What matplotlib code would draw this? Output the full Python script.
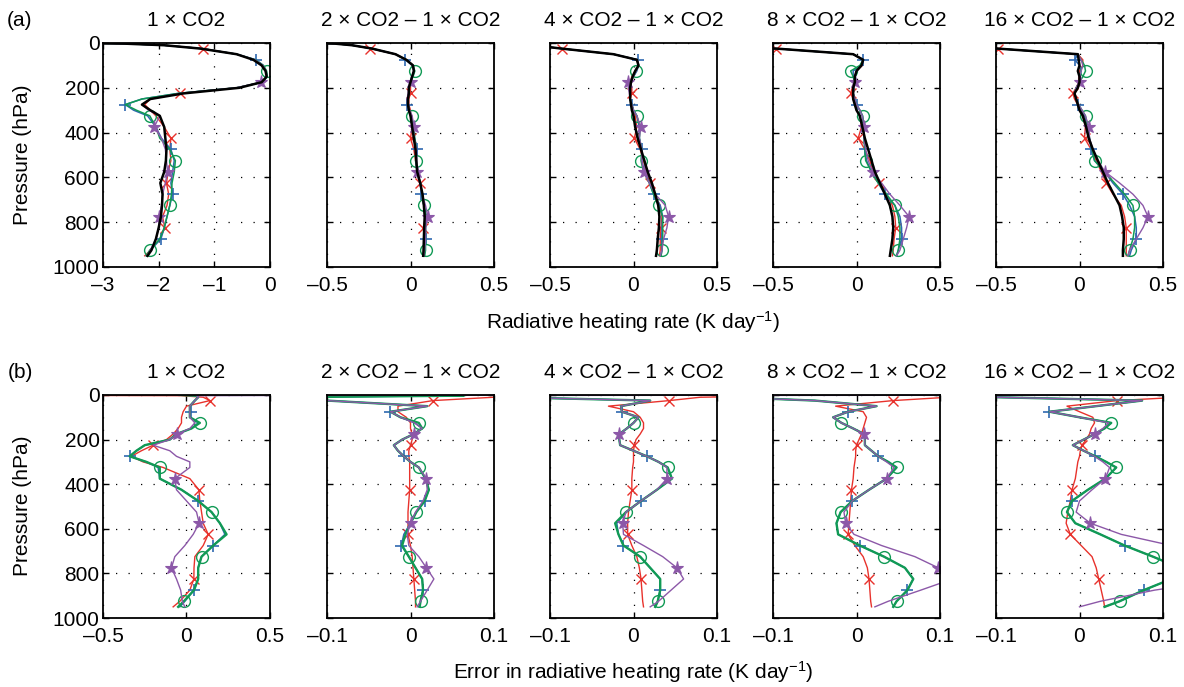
import matplotlib
matplotlib.use("Agg")
import matplotlib.pyplot as plt

plt.rcParams['font.family'] = ['Liberation Sans', 'DejaVu Sans']
plt.rcParams['mathtext.fontset'] = 'custom'
plt.rcParams['mathtext.rm'] = 'Liberation Sans'
plt.rcParams['mathtext.it'] = 'Liberation Sans'

# Pressure levels (hPa)
P = [0, 3, 10, 25, 50, 75, 100, 125, 150, 175, 200, 225, 250, 275, 300,
     325, 375, 425, 475, 525, 575, 625, 675, 725, 775, 825, 875, 925, 950]

titles = ["1 \u00d7 CO2", "2 \u00d7 CO2 \u2013 1 \u00d7 CO2", "4 \u00d7 CO2 \u2013 1 \u00d7 CO2",
          "8 \u00d7 CO2 \u2013 1 \u00d7 CO2", "16 \u00d7 CO2 \u2013 1 \u00d7 CO2"]

# ---- Row (a): heating rates ----
a1_black = [-3.5, -2.6, -1.9, -1.25, -0.6, -0.3, -0.15, -0.08, -0.06, -0.15, -0.55, -1.55, -2.15, -2.3, -2.15, -1.98, -1.9, -1.88, -1.86, -1.87, -1.9, -1.97, -1.93, -1.94, -1.96, -2.0, -2.05, -2.13, -2.2]
a1_red = [-3.5, -2.6, -1.9, -1.2, -0.6, -0.28, -0.14, -0.08, -0.06, -0.14, -0.6, -1.62, -2.15, -2.25, -2.15, -2.05, -1.9, -1.78, -1.8, -1.78, -1.83, -1.86, -1.82, -1.85, -1.93, -1.89, -1.98, -2.15, -2.25]
a1_blue = [-3.5, -2.6, -1.9, -1.22, -0.6, -0.25, -0.12, -0.07, -0.05, -0.14, -0.6, -1.65, -2.3, -2.6, -2.45, -2.2, -2.05, -1.95, -1.78, -1.72, -1.75, -1.78, -1.75, -1.8, -1.85, -1.9, -1.96, -2.15, -2.22]
a1_green = [-3.5, -2.6, -1.9, -1.22, -0.6, -0.26, -0.12, -0.06, -0.05, -0.14, -0.6, -1.65, -2.3, -2.6, -2.4, -2.16, -2.05, -1.98, -1.8, -1.7, -1.72, -1.76, -1.77, -1.8, -1.85, -1.9, -1.98, -2.16, -2.22]
a1_purple = [-3.5, -2.6, -1.9, -1.22, -0.6, -0.27, -0.13, -0.07, -0.06, -0.16, -0.6, -1.6, -2.15, -2.3, -2.18, -1.98, -2.08, -1.95, -1.88, -1.86, -1.84, -1.88, -1.93, -1.95, -1.99, -2.0, -2.05, -2.15, -2.2]

a2_black = [-0.6, -0.45, -0.35, -0.23, -0.09, -0.025, 0.015, 0.02, 0.01, 0.0, -0.01, -0.01, -0.015, -0.015, -0.01, 0.0, 0.01, 0.02, 0.03, 0.035, 0.04, 0.058, 0.072, 0.08, 0.085, 0.082, 0.08, 0.078, 0.076]
a2_red = [-0.6, -0.45, -0.35, -0.24, -0.09, -0.025, 0.015, 0.02, 0.01, 0.0, 0.0, 0.0, -0.01, -0.01, 0.0, 0.0, 0.01, 0.0, 0.02, 0.03, 0.045, 0.056, 0.07, 0.08, 0.09, 0.076, 0.085, 0.085, 0.08]
a2_blue = [-0.6, -0.45, -0.35, -0.23, -0.09, -0.03, 0.01, 0.02, 0.01, 0.0, -0.01, -0.01, -0.02, -0.02, -0.01, 0.0, 0.015, 0.025, 0.04, 0.035, 0.04, 0.06, 0.064, 0.08, 0.095, 0.09, 0.09, 0.085, 0.08]
a2_green = [-0.6, -0.45, -0.35, -0.23, -0.09, -0.025, 0.015, 0.026, 0.015, 0.0, -0.01, -0.01, -0.015, -0.015, -0.005, 0.006, 0.02, 0.025, 0.035, 0.03, 0.04, 0.06, 0.07, 0.08, 0.095, 0.09, 0.09, 0.09, 0.085]
a2_purple = [-0.6, -0.45, -0.35, -0.23, -0.09, -0.025, 0.015, 0.02, 0.01, 0.0, -0.01, -0.015, -0.02, -0.015, -0.005, 0.01, 0.02, 0.02, 0.035, 0.036, 0.036, 0.055, 0.07, 0.09, 0.104, 0.09, 0.09, 0.085, 0.08]

a3_black = [-0.8, -0.7, -0.6, -0.43, -0.12, 0.02, 0.03, 0.01, -0.005, -0.015, -0.02, -0.02, -0.02, -0.015, -0.01, 0.0, 0.01, 0.025, 0.045, 0.065, 0.085, 0.11, 0.13, 0.148, 0.155, 0.152, 0.145, 0.14, 0.135]
a3_red = [-0.8, -0.7, -0.6, -0.43, -0.12, 0.02, 0.03, 0.01, -0.01, -0.02, -0.01, -0.01, -0.02, -0.01, 0.0, 0.01, 0.02, 0.005, 0.04, 0.06, 0.075, 0.1, 0.125, 0.16, 0.17, 0.165, 0.16, 0.16, 0.155]
a3_blue = [-0.8, -0.7, -0.6, -0.43, -0.12, 0.025, 0.03, 0.02, 0.0, -0.02, -0.03, -0.02, -0.02, -0.01, 0.0, 0.02, 0.035, 0.035, 0.05, 0.05, 0.065, 0.095, 0.12, 0.16, 0.175, 0.17, 0.17, 0.17, 0.165]
a3_green = [-0.8, -0.7, -0.6, -0.43, -0.12, 0.025, 0.03, 0.015, 0.0, -0.02, -0.025, -0.02, -0.02, -0.01, 0.0, 0.02, 0.04, 0.035, 0.05, 0.045, 0.06, 0.095, 0.12, 0.15, 0.175, 0.175, 0.175, 0.17, 0.165]
a3_purple = [-0.8, -0.7, -0.6, -0.43, -0.12, 0.025, 0.03, 0.015, 0.0, -0.03, -0.03, -0.025, -0.02, -0.01, 0.0, 0.02, 0.043, 0.035, 0.05, 0.05, 0.06, 0.095, 0.13, 0.19, 0.21, 0.2, 0.18, 0.17, 0.16]

a4_black = [-2.5, -2.0, -1.5, -0.48, -0.02, 0.04, 0.03, 0.0, -0.01, -0.01, -0.02, -0.02, -0.02, -0.01, 0.0, 0.02, 0.035, 0.05, 0.07, 0.09, 0.11, 0.14, 0.17, 0.2, 0.215, 0.22, 0.215, 0.205, 0.2]
a4_red = [-2.5, -2.0, -1.5, -0.48, -0.02, 0.04, 0.035, 0.0, -0.01, -0.01, -0.025, -0.035, -0.02, -0.01, 0.0, 0.02, 0.03, 0.01, 0.05, 0.08, 0.1, 0.137, 0.18, 0.215, 0.23, 0.235, 0.225, 0.22, 0.215]
a4_blue = [-2.5, -2.0, -1.5, -0.48, -0.02, 0.04, 0.03, -0.02, -0.02, -0.01, -0.015, -0.02, -0.01, 0.0, 0.02, 0.035, 0.045, 0.045, 0.05, 0.06, 0.09, 0.13, 0.17, 0.23, 0.26, 0.27, 0.27, 0.25, 0.24]
a4_green = [-2.5, -2.0, -1.5, -0.48, -0.02, 0.04, 0.02, -0.035, -0.02, -0.01, -0.015, -0.02, -0.01, 0.0, 0.02, 0.037, 0.045, 0.045, 0.05, 0.055, 0.09, 0.13, 0.18, 0.23, 0.25, 0.26, 0.26, 0.25, 0.24]
a4_purple = [-2.5, -2.0, -1.5, -0.48, -0.02, 0.04, 0.03, 0.0, -0.01, -0.01, -0.015, -0.02, -0.01, 0.0, 0.02, 0.035, 0.045, 0.045, 0.055, 0.07, 0.097, 0.15, 0.2, 0.26, 0.315, 0.3, 0.28, 0.26, 0.24]

a5_black = [-2.5, -2.0, -1.5, -0.49, -0.01, -0.005, 0.0, -0.01, 0.0, 0.0, -0.01, -0.03, -0.02, -0.01, 0.0, 0.02, 0.04, 0.055, 0.08, 0.11, 0.14, 0.17, 0.205, 0.24, 0.255, 0.265, 0.265, 0.26, 0.26]
a5_red = [-2.5, -2.0, -1.5, -0.49, -0.01, 0.02, 0.02, 0.0, -0.005, -0.005, -0.02, -0.04, -0.03, -0.01, 0.0, 0.02, 0.035, 0.03, 0.07, 0.1, 0.13, 0.16, 0.2, 0.25, 0.27, 0.28, 0.28, 0.28, 0.28]
a5_blue = [-2.5, -2.0, -1.5, -0.49, -0.01, -0.028, 0.0, 0.01, 0.0, 0.0, -0.02, -0.03, -0.02, -0.01, 0.01, 0.03, 0.05, 0.06, 0.07, 0.09, 0.15, 0.2, 0.26, 0.3, 0.33, 0.34, 0.34, 0.31, 0.3]
a5_green = [-2.5, -2.0, -1.5, -0.49, -0.01, 0.01, 0.03, 0.036, 0.02, 0.0, -0.02, -0.03, -0.02, -0.005, 0.015, 0.036, 0.05, 0.06, 0.075, 0.09, 0.15, 0.21, 0.27, 0.32, 0.33, 0.33, 0.32, 0.3, 0.29]
a5_purple = [-2.5, -2.0, -1.5, -0.49, -0.01, 0.01, 0.02, 0.01, 0.0, 0.0, -0.02, -0.03, -0.02, -0.005, 0.015, 0.035, 0.056, 0.06, 0.08, 0.11, 0.153, 0.24, 0.32, 0.38, 0.41, 0.38, 0.34, 0.3, 0.29]

# ---- Row (b): errors ----
b1_red = [-2.0, -0.03, 0.1, 0.14, 0.0, -0.02, -0.03, -0.03, -0.05, -0.08, -0.12, -0.2, -0.27, -0.33, -0.26, -0.14, 0.02, 0.074, 0.08, 0.09, 0.1, 0.13, 0.1, 0.05, 0.045, 0.044, 0.02, -0.04, -0.08]
b1_blue = [-0.05, 0.05, 0.07, 0.05, 0.02, 0.024, 0.02, 0.07, 0.03, -0.06, -0.1, -0.25, -0.3, -0.34, -0.24, -0.17, -0.16, -0.03, 0.07, 0.15, 0.2, 0.23, 0.16, 0.09, 0.07, 0.07, 0.044, -0.01, -0.04]
b1_green = [-0.03, 0.06, 0.07, 0.05, 0.02, 0.02, 0.02, 0.08, 0.03, -0.06, -0.1, -0.25, -0.3, -0.34, -0.24, -0.16, -0.16, -0.03, 0.07, 0.15, 0.2, 0.24, 0.16, 0.09, 0.07, 0.07, 0.045, -0.016, -0.05]
b1_purple = [2.0, 0.06, 0.07, 0.05, 0.02, 0.02, 0.02, 0.05, 0.02, -0.054, -0.1, -0.2, -0.1, -0.06, 0.02, 0.02, -0.07, -0.06, 0.0, 0.06, 0.076, 0.04, -0.01, -0.07, -0.09, -0.06, -0.035, -0.025, -0.01]

b2_red = [0.5, 0.2, 0.1, 0.027, -0.015, -0.015, -0.005, 0.0, 0.0, 0.002, 0.002, 0.0, -0.002, -0.002, -0.001, -0.001, -0.001, -0.001, -0.002, -0.003, -0.003, -0.003, 0.0, 0.002, 0.003, 0.004, 0.005, 0.006, 0.006]
b2_blue = [-0.5, 0.064, -0.15, -0.1, 0.02, -0.024, -0.012, 0.005, 0.014, 0.004, -0.01, -0.02, -0.015, -0.008, 0.0, 0.01, 0.018, 0.022, 0.017, 0.007, 0.0, -0.008, -0.011, -0.002, 0.006, 0.014, 0.015, 0.012, 0.011]
b2_green = [-0.5, 0.064, -0.15, -0.1, 0.02, -0.024, -0.012, 0.01, 0.014, 0.004, -0.01, -0.02, -0.015, -0.008, 0.0, 0.01, 0.018, 0.022, 0.017, 0.007, 0.0, -0.006, -0.01, -0.002, 0.006, 0.014, 0.015, 0.012, 0.011]
b2_purple = [0.5, -0.5, -0.15, -0.1, 0.02, -0.024, -0.012, 0.005, 0.014, 0.004, -0.01, -0.02, -0.015, -0.008, 0.0, 0.01, 0.019, 0.02, 0.015, 0.006, 0.0, -0.004, -0.002, 0.01, 0.019, 0.028, 0.02, 0.012, 0.008]

b3_red = [0.5, 0.2, 0.08, 0.043, -0.03, 0.0, 0.008, 0.012, 0.012, 0.008, 0.003, 0.001, 0.0, 0.0, 0.0, -0.001, -0.002, -0.002, -0.004, -0.006, -0.007, -0.007, -0.002, 0.004, 0.007, 0.009, 0.01, 0.011, 0.012]
b3_blue = [-0.5, -0.4, -0.15, 0.02, -0.015, -0.014, 0.006, 0.0, -0.008, -0.017, -0.017, -0.016, 0.0, 0.016, 0.03, 0.041, 0.046, 0.028, 0.009, -0.009, -0.02, -0.018, -0.012, 0.008, 0.02, 0.032, 0.032, 0.029, 0.026]
b3_green = [-0.5, -0.4, -0.15, 0.02, -0.015, -0.014, 0.006, 0.0, -0.008, -0.017, -0.017, -0.016, 0.0, 0.016, 0.03, 0.041, 0.046, 0.028, 0.009, -0.009, -0.022, -0.018, -0.012, 0.008, 0.02, 0.032, 0.032, 0.029, 0.026]
b3_purple = [0.5, -0.5, -0.15, 0.02, -0.015, -0.014, 0.006, 0.0, -0.008, -0.017, -0.017, -0.016, 0.0, 0.016, 0.03, 0.04, 0.04, 0.028, 0.009, -0.009, -0.013, -0.012, 0.012, 0.035, 0.052, 0.06, 0.045, 0.03, 0.02]

b4_red = [0.5, 0.3, 0.11, 0.044, -0.025, 0.008, 0.012, 0.01, 0.008, 0.006, 0.003, 0.0, -0.001, -0.001, -0.002, -0.003, -0.004, -0.006, -0.007, -0.008, -0.009, -0.01, -0.002, 0.008, 0.013, 0.015, 0.016, 0.017, 0.018]
b4_blue = [-0.5, -0.4, -0.15, -0.05, 0.024, -0.01, -0.028, -0.018, -0.004, 0.009, 0.01, 0.01, 0.018, 0.026, 0.038, 0.048, 0.036, 0.015, -0.005, -0.019, -0.024, -0.022, 0.004, 0.033, 0.058, 0.068, 0.061, 0.048, 0.044]
b4_green = [-0.5, -0.4, -0.15, -0.05, 0.024, -0.01, -0.028, -0.018, -0.004, 0.009, 0.01, 0.01, 0.018, 0.026, 0.038, 0.048, 0.036, 0.015, -0.005, -0.019, -0.024, -0.022, 0.004, 0.033, 0.058, 0.068, 0.061, 0.048, 0.044]
b4_purple = [0.5, -0.5, -0.15, -0.05, 0.024, -0.01, -0.028, -0.018, -0.004, 0.009, 0.01, 0.01, 0.018, 0.026, 0.036, 0.045, 0.036, 0.015, -0.005, -0.015, -0.013, -0.003, 0.03, 0.07, 0.098, 0.115, 0.077, 0.038, 0.022]

b5_red = [0.5, 0.3, 0.12, 0.045, -0.015, 0.0, 0.016, 0.018, 0.014, 0.012, 0.008, 0.003, 0.001, 0.0, -0.002, -0.003, -0.005, -0.009, -0.011, -0.014, -0.016, -0.011, 0.002, 0.015, 0.02, 0.023, 0.026, 0.029, 0.03]
b5_blue = [-0.5, -0.4, -0.1, 0.075, 0.02, -0.036, 0.0, 0.038, 0.03, 0.018, 0.005, -0.008, 0.005, 0.019, 0.032, 0.044, 0.031, 0.01, -0.009, -0.015, -0.005, 0.025, 0.054, 0.088, 0.12, 0.11, 0.077, 0.048, 0.03]
b5_green = [-0.5, -0.4, -0.1, 0.075, 0.02, -0.036, 0.0, 0.038, 0.03, 0.018, 0.005, -0.008, 0.005, 0.019, 0.032, 0.044, 0.031, 0.01, -0.009, -0.015, -0.005, 0.025, 0.054, 0.088, 0.12, 0.11, 0.077, 0.048, 0.03]
b5_purple = [0.5, -0.5, -0.1, 0.075, 0.02, -0.036, 0.0, 0.035, 0.028, 0.018, 0.005, -0.008, 0.005, 0.018, 0.028, 0.036, 0.031, 0.015, 0.0, -0.004, 0.013, 0.05, 0.11, 0.2, 0.25, 0.18, 0.09, 0.025, 0.0]

row_a = [
    (a1_black, a1_red, a1_blue, a1_green, a1_purple),
    (a2_black, a2_red, a2_blue, a2_green, a2_purple),
    (a3_black, a3_red, a3_blue, a3_green, a3_purple),
    (a4_black, a4_red, a4_blue, a4_green, a4_purple),
    (a5_black, a5_red, a5_blue, a5_green, a5_purple),
]
row_b = [
    (b1_red, b1_blue, b1_green, b1_purple),
    (b2_red, b2_blue, b2_green, b2_purple),
    (b3_red, b3_blue, b3_green, b3_purple),
    (b4_red, b4_blue, b4_green, b4_purple),
    (b5_red, b5_blue, b5_green, b5_purple),
]

C_RED = '#e8322c'
C_BLUE = '#2f68b0'
C_GREEN = '#119a55'
C_PURPLE = '#8c58a8'

mk_red = [i for i, p in enumerate(P) if p % 200 == 25]
mk_blue = [i for i, p in enumerate(P) if p % 200 == 75]
mk_green = [i for i, p in enumerate(P) if p % 200 == 125]
mk_purple = [i for i, p in enumerate(P) if p % 200 == 175]

W, H = 1184, 687
fig = plt.figure(figsize=(W / 100, H / 100), dpi=100)
lefts = [103, 327, 550, 773, 996]
AW = 167
FS = 15


def mk_axes(left, top, bottom):
    return fig.add_axes([left / W, 1 - bottom / H, AW / W, (bottom - top) / H])


def style(ax, xlim, xt, xtl, first):
    ax.set_xlim(*xlim)
    ax.set_ylim(1000, 0)
    ax.set_xticks(xt)
    ax.set_xticklabels(xtl)
    ax.set_yticks([0, 200, 400, 600, 800, 1000])
    if first:
        ax.set_yticklabels(['0', '200', '400', '600', '800', '1000'])
    else:
        ax.set_yticklabels([])
    ax.tick_params(direction='in', length=4, width=1, top=True, right=True,
                   labelsize=FS, color='k')
    ax.tick_params(axis='x', pad=6.5)
    ax.tick_params(axis='y', pad=2.5)
    ax.grid(True, linestyle=(0, (1, 9)), color='k', linewidth=0.9)
    ax.set_axisbelow(True)
    for s in ax.spines.values():
        s.set_linewidth(1.3)


def colored(ax, red, blue, green, purple, glw):
    ax.plot(red, P, color=C_RED, lw=1.0, marker='x', ms=6.5, mew=1.0, markevery=mk_red)
    ax.plot(blue, P, color=C_BLUE, lw=1.1, marker='+', ms=9, mew=1.2, markevery=mk_blue)
    ax.plot(green, P, color=C_GREEN, lw=glw, marker='o', ms=8.5, mew=1.0, mfc='none', markevery=mk_green)
    ax.plot(purple, P, color=C_PURPLE, lw=1.0, marker='*', ms=9.5, mew=0.8, markevery=mk_purple)


for i in range(5):
    ax = mk_axes(lefts[i], 43, 267)
    black, red, blue, green, purple = row_a[i]
    colored(ax, red, blue, green, purple, 1.1)
    ax.plot(black, P, color='k', lw=1.8)
    if i == 0:
        style(ax, (-3, 0), [-3, -2, -1, 0], ['\u20133', '\u20132', '\u20131', '0'], True)
    else:
        style(ax, (-0.5, 0.5), [-0.5, 0, 0.5], ['\u20130.5', '0', '0.5'], False)
    fig.text((lefts[i] + AW / 2) / W, 1 - 20 / H, titles[i], ha='center', va='center', fontsize=FS)

for i in range(5):
    ax = mk_axes(lefts[i], 395, 618)
    red, blue, green, purple = row_b[i]
    colored(ax, red, blue, green, purple, 1.7)
    if i == 0:
        style(ax, (-0.5, 0.5), [-0.5, 0, 0.5], ['\u20130.5', '0', '0.5'], True)
    else:
        style(ax, (-0.1, 0.1), [-0.1, 0, 0.1], ['\u20130.1', '0', '0.1'], False)
    fig.text((lefts[i] + AW / 2) / W, 1 - 373 / H, titles[i], ha='center', va='center', fontsize=FS)

fig.text(20 / W, 1 - 20 / H, '(a)', ha='center', va='center', fontsize=FS)
fig.text(20 / W, 1 - 373 / H, '(b)', ha='center', va='center', fontsize=FS)
fig.text(23 / W, 1 - 155 / H, 'Pressure (hPa)', rotation=90, ha='center', va='center', fontsize=FS)
fig.text(23 / W, 1 - 506 / H, 'Pressure (hPa)', rotation=90, ha='center', va='center', fontsize=FS)
fig.text(633 / W, 1 - 322 / H, 'Radiative heating rate (K day$^{\\mathrm{\u22121}}$)',
         ha='center', va='center', fontsize=FS)
fig.text(633 / W, 1 - 672 / H, 'Error in radiative heating rate (K day$^{\\mathrm{\u22121}}$)',
         ha='center', va='center', fontsize=FS)

fig.savefig('out.png', dpi=100)
